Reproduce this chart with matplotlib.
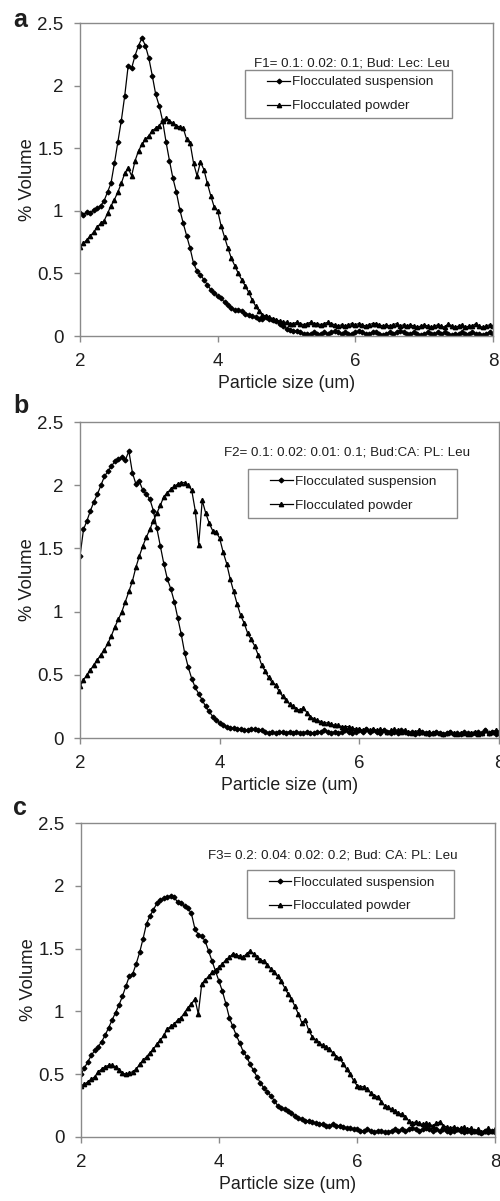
import numpy as np
import matplotlib
matplotlib.use("Agg")
from matplotlib import pyplot as plt
from matplotlib.patches import Rectangle

plt.rcParams["font.family"] = ["Liberation Sans", "DejaVu Sans"]

# particle size grid (um), same for all series
size = [2.00, 2.05, 2.10, 2.15, 2.20, 2.25, 2.30, 2.35, 2.40, 2.45,
        2.50, 2.55, 2.60, 2.65, 2.70, 2.75, 2.80, 2.85, 2.90, 2.95,
        3.00, 3.05, 3.10, 3.15, 3.20, 3.25, 3.30, 3.35, 3.40, 3.45,
        3.50, 3.55, 3.60, 3.65, 3.70, 3.75, 3.80, 3.85, 3.90, 3.95,
        4.00, 4.05, 4.10, 4.15, 4.20, 4.25, 4.30, 4.35, 4.40, 4.45,
        4.50, 4.55, 4.60, 4.65, 4.70, 4.75, 4.80, 4.85, 4.90, 4.95,
        5.00, 5.05, 5.10, 5.15, 5.20, 5.25, 5.30, 5.35, 5.40, 5.45,
        5.50, 5.55, 5.60, 5.65, 5.70, 5.75, 5.80, 5.85, 5.90, 5.95,
        6.00, 6.05, 6.10, 6.15, 6.20, 6.25, 6.30, 6.35, 6.40, 6.45,
        6.50, 6.55, 6.60, 6.65, 6.70, 6.75, 6.80, 6.85, 6.90, 6.95,
        7.00, 7.05, 7.10, 7.15, 7.20, 7.25, 7.30, 7.35, 7.40, 7.45,
        7.50, 7.55, 7.60, 7.65, 7.70, 7.75, 7.80, 7.85, 7.90, 7.95,
        8.00]

# F1
a_susp = [0.98, 0.97, 0.99, 0.98, 1.01, 1.02, 1.04, 1.08, 1.15, 1.22,
          1.38, 1.55, 1.72, 1.92, 2.16, 2.14, 2.24, 2.32, 2.38, 2.32,
          2.22, 2.08, 1.93, 1.84, 1.72, 1.55, 1.40, 1.26, 1.15, 1.01,
          0.90, 0.80, 0.70, 0.58, 0.52, 0.49, 0.45, 0.41, 0.37, 0.34,
          0.32, 0.30, 0.27, 0.25, 0.22, 0.21, 0.21, 0.20, 0.18, 0.17,
          0.16, 0.15, 0.14, 0.14, 0.15, 0.14, 0.13, 0.12, 0.10, 0.08,
          0.06, 0.05, 0.04, 0.04, 0.03, 0.02, 0.02, 0.02, 0.03, 0.02,
          0.02, 0.03, 0.02, 0.03, 0.04, 0.03, 0.02, 0.03, 0.02, 0.02,
          0.03, 0.04, 0.03, 0.02, 0.02, 0.03, 0.03, 0.02, 0.01, 0.02,
          0.03, 0.02, 0.03, 0.04, 0.03, 0.02, 0.02, 0.03, 0.02, 0.01,
          0.02, 0.03, 0.02, 0.02, 0.03, 0.02, 0.03, 0.02, 0.01, 0.02,
          0.02, 0.03, 0.02, 0.02, 0.03, 0.02, 0.02, 0.01, 0.02, 0.03,
          0.02]
a_powd = [0.71, 0.74, 0.77, 0.80, 0.83, 0.87, 0.90, 0.92, 0.98, 1.04,
          1.09, 1.15, 1.22, 1.30, 1.34, 1.28, 1.40, 1.48, 1.53, 1.57,
          1.60, 1.64, 1.66, 1.68, 1.72, 1.74, 1.72, 1.70, 1.68, 1.67,
          1.66, 1.57, 1.54, 1.38, 1.28, 1.39, 1.33, 1.22, 1.12, 1.03,
          1.00, 0.88, 0.79, 0.70, 0.62, 0.56, 0.50, 0.45, 0.40, 0.35,
          0.29, 0.24, 0.20, 0.17, 0.16, 0.15, 0.14, 0.13, 0.12, 0.11,
          0.11, 0.10, 0.10, 0.11, 0.10, 0.09, 0.10, 0.11, 0.10, 0.10,
          0.09, 0.10, 0.11, 0.10, 0.09, 0.08, 0.09, 0.08, 0.09, 0.10,
          0.09, 0.10, 0.09, 0.08, 0.09, 0.10, 0.10, 0.09, 0.08, 0.09,
          0.08, 0.09, 0.10, 0.08, 0.09, 0.08, 0.09, 0.08, 0.07, 0.08,
          0.09, 0.08, 0.07, 0.08, 0.09, 0.08, 0.07, 0.10, 0.08, 0.07,
          0.08, 0.09, 0.07, 0.08, 0.08, 0.10, 0.08, 0.07, 0.08, 0.09,
          0.08]

# F2
b_susp = [1.44, 1.65, 1.72, 1.80, 1.87, 1.93, 2.00, 2.07, 2.11, 2.15,
          2.19, 2.21, 2.22, 2.20, 2.27, 2.10, 2.01, 2.03, 1.96, 1.93,
          1.89, 1.80, 1.66, 1.52, 1.38, 1.26, 1.18, 1.08, 0.95, 0.82,
          0.67, 0.56, 0.47, 0.40, 0.35, 0.30, 0.25, 0.21, 0.17, 0.14,
          0.12, 0.10, 0.09, 0.08, 0.08, 0.07, 0.07, 0.06, 0.06, 0.07,
          0.07, 0.06, 0.06, 0.05, 0.04, 0.05, 0.04, 0.05, 0.05, 0.04,
          0.05, 0.04, 0.05, 0.04, 0.04, 0.05, 0.04, 0.04, 0.05, 0.05,
          0.06, 0.05, 0.04, 0.05, 0.04, 0.05, 0.06, 0.05, 0.04, 0.05,
          0.06, 0.05, 0.07, 0.05, 0.06, 0.05, 0.04, 0.06, 0.05, 0.04,
          0.05, 0.04, 0.06, 0.05, 0.04, 0.05, 0.03, 0.04, 0.05, 0.04,
          0.03, 0.04, 0.05, 0.04, 0.03, 0.04, 0.05, 0.03, 0.04, 0.03,
          0.05, 0.04, 0.03, 0.04, 0.05, 0.04, 0.06, 0.04, 0.05, 0.03,
          0.05]
b_powd = [0.41, 0.46, 0.50, 0.54, 0.58, 0.62, 0.66, 0.70, 0.75, 0.81,
          0.88, 0.94, 1.00, 1.08, 1.16, 1.24, 1.35, 1.44, 1.52, 1.59,
          1.65, 1.72, 1.78, 1.84, 1.91, 1.94, 1.97, 1.99, 2.01, 2.02,
          2.02, 2.00, 1.96, 1.80, 1.53, 1.88, 1.78, 1.70, 1.64, 1.63,
          1.58, 1.47, 1.38, 1.26, 1.16, 1.06, 0.97, 0.91, 0.83, 0.78,
          0.73, 0.66, 0.58, 0.53, 0.48, 0.44, 0.42, 0.37, 0.33, 0.30,
          0.27, 0.25, 0.23, 0.22, 0.24, 0.20, 0.17, 0.15, 0.14, 0.13,
          0.12, 0.12, 0.11, 0.10, 0.10, 0.09, 0.09, 0.09, 0.08, 0.07,
          0.07, 0.06, 0.07, 0.06, 0.07, 0.06, 0.07, 0.06, 0.05, 0.06,
          0.07, 0.06, 0.05, 0.06, 0.05, 0.04, 0.05, 0.06, 0.05, 0.04,
          0.05, 0.04, 0.05, 0.04, 0.03, 0.04, 0.05, 0.04, 0.03, 0.04,
          0.04, 0.03, 0.04, 0.05, 0.03, 0.04, 0.06, 0.04, 0.05, 0.06,
          0.04]

# F3
c_susp = [0.50, 0.55, 0.60, 0.65, 0.69, 0.72, 0.76, 0.81, 0.87, 0.93,
          0.99, 1.05, 1.12, 1.20, 1.28, 1.30, 1.38, 1.47, 1.58, 1.70,
          1.76, 1.81, 1.86, 1.89, 1.90, 1.91, 1.92, 1.91, 1.87, 1.86,
          1.84, 1.82, 1.78, 1.66, 1.61, 1.60, 1.56, 1.48, 1.40, 1.32,
          1.24, 1.16, 1.06, 0.95, 0.88, 0.81, 0.75, 0.68, 0.64, 0.58,
          0.53, 0.48, 0.43, 0.39, 0.36, 0.33, 0.29, 0.25, 0.23, 0.22,
          0.21, 0.19, 0.17, 0.15, 0.14, 0.13, 0.13, 0.12, 0.11, 0.10,
          0.10, 0.09, 0.09, 0.10, 0.09, 0.09, 0.08, 0.07, 0.07, 0.06,
          0.06, 0.05, 0.05, 0.06, 0.05, 0.04, 0.05, 0.05, 0.04, 0.04,
          0.05, 0.06, 0.05, 0.06, 0.05, 0.06, 0.07, 0.06, 0.05, 0.06,
          0.07, 0.06, 0.05, 0.06, 0.05, 0.06, 0.05, 0.04, 0.05, 0.06,
          0.05, 0.04, 0.05, 0.04, 0.05, 0.04, 0.03, 0.05, 0.04, 0.05,
          0.04]
c_powd = [0.41, 0.42, 0.44, 0.46, 0.48, 0.52, 0.54, 0.56, 0.57, 0.57,
          0.56, 0.53, 0.51, 0.50, 0.51, 0.52, 0.54, 0.58, 0.61, 0.64,
          0.67, 0.70, 0.74, 0.77, 0.81, 0.86, 0.88, 0.90, 0.93, 0.95,
          0.99, 1.03, 1.06, 1.10, 0.98, 1.22, 1.25, 1.28, 1.31, 1.33,
          1.35, 1.38, 1.41, 1.43, 1.46, 1.45, 1.44, 1.43, 1.46, 1.48,
          1.46, 1.43, 1.41, 1.40, 1.37, 1.34, 1.31, 1.28, 1.24, 1.19,
          1.14, 1.10, 1.04, 0.98, 0.91, 0.93, 0.85, 0.80, 0.77, 0.75,
          0.73, 0.72, 0.70, 0.67, 0.64, 0.63, 0.58, 0.54, 0.50, 0.45,
          0.41, 0.40, 0.40, 0.38, 0.35, 0.33, 0.32, 0.28, 0.25, 0.24,
          0.22, 0.21, 0.19, 0.18, 0.16, 0.13, 0.11, 0.12, 0.11, 0.10,
          0.11, 0.10, 0.09, 0.11, 0.12, 0.09, 0.08, 0.07, 0.08, 0.06,
          0.07, 0.08, 0.06, 0.07, 0.05, 0.06, 0.04, 0.05, 0.07, 0.05,
          0.06]

notes = ["F1= 0.1: 0.02: 0.1; Bud: Lec: Leu",
         "F2= 0.1: 0.02: 0.01: 0.1; Bud:CA: PL: Leu",
         "F3= 0.2: 0.04: 0.02: 0.2; Bud: CA: PL: Leu"]
letters = ["a", "b", "c"]
series = [(a_susp, a_powd), (b_susp, b_powd), (c_susp, c_powd)]

# axes boxes in figure fractions (left, bottom, width, height)
boxes = [[0.160, 0.7202, 0.826, 0.2606],
         [0.160, 0.3855, 0.838, 0.2631],
         [0.162, 0.0533, 0.828, 0.2614]]
note_xy = [(0.659, 0.872), (0.638, 0.904), (0.609, 0.898)]
letter_y = [0.9775, 0.6561, 0.3214]

fig = plt.figure(figsize=(5.0, 12.01), dpi=100)
grey = "#8a8a8a"
ink = "#1e1e1e"

for i in range(3):
    ax = fig.add_axes(boxes[i])
    s, p = series[i]
    ax.plot(size, s, color="black", lw=0.9, marker="D", ms=2.4,
            label="Flocculated suspension")
    ax.plot(size, p, color="black", lw=0.9, marker="^", ms=3.1,
            label="Flocculated powder")
    ax.set_xlim(2, 8)
    ax.set_ylim(0, 2.5)
    ax.set_xticks([2, 4, 6, 8])
    ax.set_yticks([0, 0.5, 1, 1.5, 2, 2.5])
    ax.set_yticklabels(["0", "0.5", "1", "1.5", "2", "2.5"])
    for sp in ax.spines.values():
        sp.set_color(grey)
        sp.set_linewidth(1.0)
    ax.tick_params(direction="out", length=4, width=1, color=grey,
                   labelsize=13.5, labelcolor=ink, pad=8)
    ax.set_xlabel("Particle size (um)", fontsize=12.8, color=ink, labelpad=4)
    ax.set_ylabel("% Volume", fontsize=13.2, color=ink, labelpad=1)
    ax.text(note_xy[i][0], note_xy[i][1], notes[i], transform=ax.transAxes,
            ha="center", va="center", fontsize=9.6, color=ink)

    # legend box drawn separately (Excel style wide side padding)
    ax.add_patch(Rectangle((0.40, 0.696), 0.50, 0.154, transform=ax.transAxes,
                           facecolor="white", edgecolor=grey, lw=1.0,
                           zorder=4))
    leg = ax.legend(loc="center left", bbox_to_anchor=(0.453, 0.773),
                    fontsize=9.7, frameon=False, handlelength=1.7,
                    handletextpad=0.15, borderpad=0, labelspacing=0.85,
                    borderaxespad=0)
    leg.set_zorder(5)
    for t in leg.get_texts():
        t.set_color(ink)

    fig.text(0.026, letter_y[i], letters[i], fontsize=18, fontweight="bold",
             ha="left", va="baseline", color=ink)

fig.savefig("out.png", dpi=100)
